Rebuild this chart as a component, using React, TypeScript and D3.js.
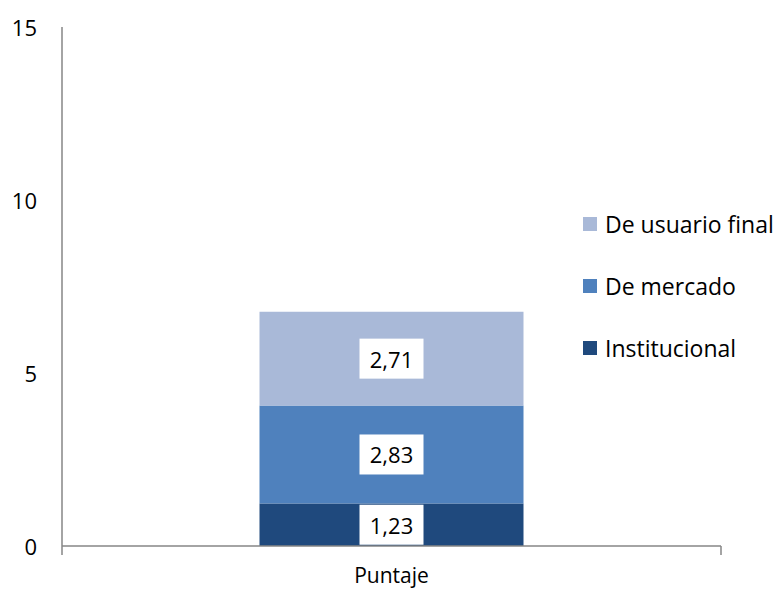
import React from "react";
import * as d3 from "d3";

const categories = ["Puntaje"];
const seriesNames = ["Institucional", "De mercado", "De usuario final"];
const institucional = [1.23];
const deMercado = [2.83];
const deUsuarioFinal = [2.71];
const yTicks = [0, 5, 10, 15];
const colors = ["#1F497D", "#4F81BD", "#A9B9D8"];

const W = 776;
const H = 591;
const FONT = "'Open Sans', Lato, sans-serif";

export default function App() {
  const left = 62;
  const right = 721;
  const top = 27;
  const bottom = 546;
  const x = d3.scaleBand().domain(categories).range([left, right]).paddingInner(0).paddingOuter(0.3);
  const y = d3.scaleLinear().domain([0, 15]).range([bottom, top]);
  const series = [institucional, deMercado, deUsuarioFinal];
  const rows = categories.map((c, i) => {
    const r: any = { cat: c };
    seriesNames.forEach((s, j) => (r[s] = series[j][i]));
    return r;
  });
  const stacked = d3.stack().keys(seriesNames)(rows);
  const bw = 264;
  const legendYs = [348, 286, 224];

  return (
    <svg width={W} height={H} style={{ position: "absolute", left: 0, top: 0, background: "#fff" }}>
      {stacked.map((layer, j) =>
        layer.map((d, i) => {
          const cx = x(categories[i])! + x.bandwidth() / 2;
          const y0 = y(d[0]);
          const y1 = y(d[1]);
          const mid = (y0 + y1) / 2;
          return (
            <g key={`${j}-${i}`}>
              <rect x={cx - bw / 2} y={y1} width={bw} height={y0 - y1} fill={colors[j]} />
              <rect x={cx - 32} y={mid - 20} width={64} height={40} fill="#fff" />
              <text x={cx} y={mid} textAnchor="middle" dominantBaseline="central" fontFamily={FONT} fontSize={22} fill="#000">
                {series[j][i].toFixed(2).replace(".", ",")}
              </text>
            </g>
          );
        })
      )}
      <line x1={left} x2={left} y1={top} y2={bottom + 9} stroke="#868686" strokeWidth={1.5} />
      <line x1={left} x2={right} y1={bottom} y2={bottom} stroke="#868686" strokeWidth={1.5} />
      <line x1={right} x2={right} y1={bottom} y2={bottom + 9} stroke="#868686" strokeWidth={1.5} />
      {yTicks.map((t) => (
        <text key={t} x={37} y={y(t)} textAnchor="end" dominantBaseline="central" fontFamily={FONT} fontSize={22} fill="#000">
          {t}
        </text>
      ))}
      {categories.map((c) => (
        <text key={c} x={x(c)! + x.bandwidth() / 2} y={575} textAnchor="middle" dominantBaseline="central" fontFamily={FONT} fontSize={21} fill="#000">
          {c}
        </text>
      ))}
      {seriesNames.map((s, j) => (
        <g key={s}>
          <rect x={583} y={legendYs[j] - 7} width={14} height={14} fill={colors[j]} />
          <text x={605} y={legendYs[j]} dominantBaseline="central" fontFamily={FONT} fontSize={23} fill="#000">
            {s}
          </text>
        </g>
      ))}
    </svg>
  );
}
